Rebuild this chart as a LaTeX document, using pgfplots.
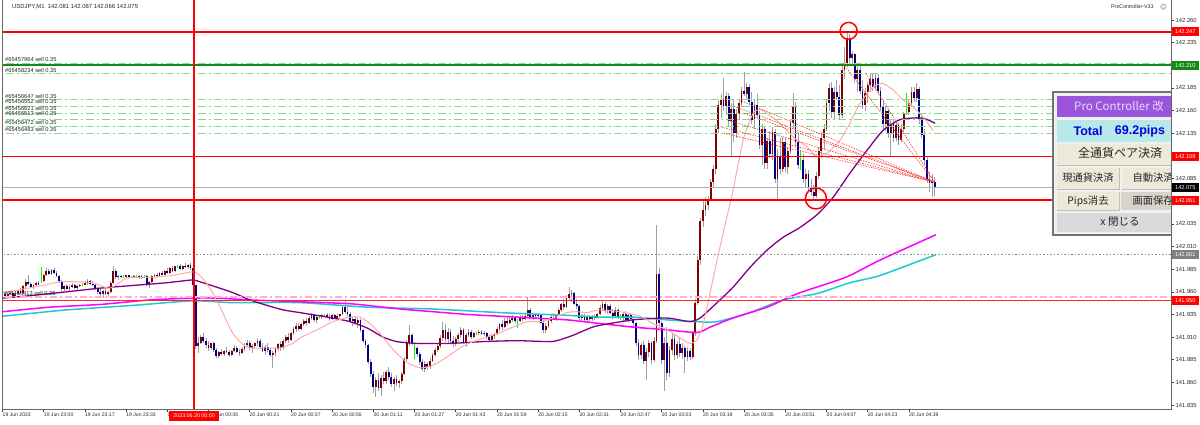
\documentclass[border=0pt]{standalone}
\usepackage{pgfplots}
\pgfplotsset{compat=1.18}
\usepackage{pgfplotstable}
\usepackage{fontspec}
\setmainfont{Liberation Sans}
\newfontfamily\jp{Noto Sans CJK JP}
\newfontfamily\dv{DejaVu Sans}
\definecolor{upc}{HTML}{800000}
\definecolor{dnc}{HTML}{000080}
\definecolor{wickc}{HTML}{A0A0A0}
\definecolor{dojic}{HTML}{00FF00}
\definecolor{pinkma}{HTML}{FFAAAA}
\definecolor{purplema}{HTML}{800080}
\definecolor{magma}{HTML}{FF00FF}
\definecolor{cyanma}{HTML}{20C8D0}
\definecolor{sellg}{HTML}{7FDF7F}
\definecolor{tpgreen}{HTML}{138A13}
\definecolor{bidc}{HTML}{A8B4C4}
\definecolor{pinkdd}{HTML}{FFADD6}
\definecolor{hdr}{HTML}{9B55DC}
\definecolor{hdrtxt}{HTML}{E8DAFA}
\definecolor{totbg}{HTML}{B8E8E8}
\definecolor{btn}{HTML}{ECE9D8}
\definecolor{btnd}{HTML}{D6D3CA}
\definecolor{closeb}{HTML}{D9D9D9}

\pgfplotstableread{
i o h l c
0 141.956 141.959 141.953 141.957
2 141.955 141.958 141.953 141.957
3 141.957 141.961 141.956 141.959
5 141.955 141.959 141.954 141.958
6 141.958 141.962 141.957 141.961
8 141.959 141.967 141.958 141.966
9 141.966 141.974 141.964 141.971
12 141.965 141.969 141.963 141.968
13 141.968 141.971 141.966 141.970
16 141.972 141.980 141.971 141.979
17 141.979 141.986 141.977 141.983
19 141.980 141.985 141.979 141.984
24 141.963 141.968 141.961 141.966
26 141.963 141.967 141.960 141.965
27 141.965 141.970 141.964 141.968
29 141.964 141.967 141.961 141.966
30 141.966 141.969 141.965 141.968
32 141.968 141.972 141.967 141.970
33 141.970 141.974 141.968 141.972
39 141.957 141.962 141.953 141.961
41 141.958 141.961 141.954 141.960
42 141.960 141.972 141.959 141.970
43 141.970 141.988 141.969 141.983
45 141.976 141.979 141.973 141.977
48 141.976 141.979 141.975 141.978
51 141.976 141.979 141.975 141.977
54 141.975 141.978 141.974 141.977
57 141.967 141.972 141.964 141.971
58 141.971 141.978 141.970 141.977
59 141.977 141.980 141.975 141.979
61 141.977 141.982 141.976 141.981
63 141.979 141.984 141.978 141.983
65 141.981 141.987 141.980 141.986
67 141.983 141.989 141.982 141.988
70 141.985 141.990 141.984 141.989
72 141.987 141.991 141.985 141.990
76 141.900 141.910 141.892 141.904
77 141.904 141.912 141.902 141.910
81 141.898 141.904 141.896 141.903
84 141.889 141.895 141.887 141.893
86 141.891 141.896 141.889 141.895
89 141.890 141.896 141.889 141.895
90 141.895 141.901 141.894 141.898
93 141.892 141.899 141.891 141.897
94 141.897 141.903 141.895 141.901
95 141.901 141.907 141.899 141.904
97 141.898 141.902 141.892 141.900
98 141.900 141.905 141.897 141.903
99 141.903 141.909 141.900 141.906
102 141.895 141.901 141.890 141.899
105 141.890 141.895 141.876 141.892
106 141.892 141.899 141.889 141.897
107 141.897 141.904 141.895 141.902
109 141.898 141.908 141.896 141.906
110 141.906 141.912 141.903 141.910
112 141.907 141.916 141.906 141.914
113 141.914 141.921 141.912 141.919
114 141.919 141.925 141.916 141.922
116 141.919 141.926 141.918 141.924
117 141.924 141.930 141.922 141.928
119 141.925 141.933 141.924 141.931
120 141.931 141.937 141.929 141.934
122 141.929 141.934 141.926 141.932
124 141.932 141.936 141.930 141.934
128 141.930 141.935 141.929 141.934
130 141.931 141.935 141.929 141.933
131 141.933 141.936 141.931 141.935
132 141.935 141.945 141.934 141.943
136 141.928 141.932 141.922 141.930
138 141.926 141.931 141.920 141.929
145 141.855 141.866 141.844 141.863
147 141.854 141.868 141.845 141.865
149 141.861 141.874 141.858 141.871
152 141.858 141.866 141.851 141.864
154 141.859 141.863 141.854 141.861
155 141.861 141.871 141.858 141.869
156 141.869 141.888 141.868 141.886
157 141.886 141.907 141.884 141.904
158 141.904 141.923 141.900 141.912
164 141.875 141.884 141.871 141.880
166 141.877 141.887 141.875 141.884
167 141.884 141.892 141.882 141.890
168 141.890 141.898 141.888 141.896
169 141.896 141.903 141.893 141.900
170 141.900 141.912 141.898 141.909
171 141.909 141.927 141.906 141.918
173 141.908 141.920 141.903 141.916
176 141.902 141.910 141.900 141.908
177 141.908 141.915 141.905 141.912
178 141.912 141.921 141.909 141.918
180 141.904 141.914 141.899 141.912
181 141.912 141.919 141.910 141.916
183 141.910 141.916 141.909 141.914
185 141.914 141.918 141.912 141.916
187 141.913 141.917 141.911 141.915
190 141.907 141.913 141.906 141.911
191 141.911 141.915 141.908 141.913
192 141.913 141.921 141.912 141.919
193 141.919 141.926 141.917 141.924
195 141.921 141.931 141.920 141.928
197 141.925 141.931 141.924 141.929
198 141.929 141.934 141.927 141.931
201 141.928 141.934 141.927 141.932
203 141.930 141.935 141.929 141.933
204 141.933 141.954 141.931 141.940
206 141.932 141.936 141.929 141.934
208 141.933 141.936 141.930 141.935
211 141.918 141.925 141.914 141.922
212 141.922 141.930 141.920 141.928
213 141.928 141.934 141.926 141.932
215 141.930 141.936 141.928 141.935
216 141.935 141.942 141.933 141.940
217 141.940 141.948 141.938 141.946
219 141.943 141.956 141.942 141.953
220 141.953 141.965 141.950 141.957
221 141.957 141.962 141.949 141.959
225 141.931 141.935 141.927 141.933
227 141.929 141.934 141.927 141.932
229 141.930 141.934 141.928 141.933
231 141.931 141.937 141.930 141.935
232 141.935 141.945 141.934 141.942
233 141.942 141.951 141.939 141.947
235 141.939 141.946 141.936 141.944
238 141.933 141.943 141.931 141.940
241 141.932 141.938 141.928 141.936
243 141.929 141.937 141.926 141.934
248 141.890 141.904 141.886 141.901
250 141.884 141.898 141.863 141.894
251 141.894 141.907 141.888 141.904
253 141.885 141.910 141.882 141.906
254 141.906 142.034 141.904 141.980
257 141.885 141.910 141.851 141.904
259 141.870 141.900 141.866 141.896
260 141.896 141.914 141.890 141.908
262 141.890 141.906 141.886 141.902
264 141.892 141.903 141.886 141.898
266 141.888 141.899 141.884 141.895
268 141.888 141.917 141.886 141.914
269 141.914 141.952 141.911 141.948
270 141.948 142.000 141.945 141.995
271 141.995 142.042 141.990 142.038
272 142.038 142.062 142.032 142.050
273 142.050 142.065 142.044 142.056
274 142.056 142.066 142.050 142.062
275 142.062 142.085 142.060 142.081
276 142.081 142.100 142.076 142.096
277 142.096 142.145 142.090 142.140
278 142.140 142.172 142.135 142.166
279 142.166 142.178 142.152 142.172
281 142.165 142.180 142.155 142.176
283 142.148 142.168 142.110 142.162
285 142.135 142.162 142.130 142.156
286 142.156 142.172 142.150 142.168
287 142.168 142.186 142.164 142.182
289 142.178 142.190 142.172 142.186
292 142.150 142.172 142.140 142.166
295 142.122 142.145 142.100 142.140
297 142.102 142.130 142.095 142.126
299 142.112 142.142 142.105 142.136
301 142.085 142.118 142.062 142.110
303 142.095 142.131 142.092 142.125
305 142.098 142.120 142.090 142.115
306 142.115 142.150 142.112 142.146
307 142.146 142.179 142.140 142.165
312 142.085 142.096 142.075 142.090
316 142.066 142.092 142.064 142.088
317 142.088 142.120 142.085 142.115
318 142.115 142.136 142.108 142.130
319 142.130 142.145 142.118 142.140
320 142.140 142.172 142.138 142.168
321 142.168 142.190 142.160 142.185
323 142.158 142.186 142.150 142.180
326 142.155 142.210 142.152 142.205
327 142.205 142.230 142.195 142.212
328 142.212 142.247 142.208 142.240
330 142.218 142.226 142.210 142.222
332 142.195 142.210 142.180 142.205
335 142.166 142.185 142.160 142.180
336 142.180 142.192 142.168 142.188
337 142.188 142.200 142.180 142.195
339 142.186 142.200 142.183 142.196
343 142.145 142.165 142.138 142.160
345 142.135 142.150 142.109 142.145
347 142.130 142.148 142.126 142.144
349 142.128 142.145 142.125 142.140
350 142.140 142.158 142.136 142.156
352 142.158 142.172 142.155 142.168
353 142.168 142.186 142.164 142.180
355 142.174 142.190 142.170 142.184
361 142.080 142.090 142.065 142.081
}\up

\pgfplotstableread{
i o h l c
1 141.957 141.960 141.955 141.955
4 141.959 141.960 141.954 141.955
7 141.961 141.964 141.958 141.959
10 141.971 141.978 141.968 141.969
11 141.969 141.971 141.964 141.965
14 141.970 141.972 141.967 141.968
18 141.983 141.985 141.978 141.980
20 141.984 141.986 141.980 141.981
21 141.981 141.983 141.976 141.977
22 141.977 141.979 141.970 141.972
23 141.972 141.973 141.960 141.963
25 141.966 141.969 141.962 141.963
28 141.968 141.969 141.963 141.964
34 141.972 141.973 141.967 141.969
35 141.969 141.972 141.966 141.967
36 141.967 141.969 141.962 141.963
37 141.963 141.965 141.958 141.960
38 141.960 141.963 141.955 141.957
40 141.961 141.964 141.956 141.958
44 141.983 141.985 141.974 141.976
46 141.977 141.979 141.975 141.976
49 141.978 141.979 141.975 141.976
53 141.977 141.978 141.974 141.975
56 141.977 141.978 141.966 141.967
60 141.979 141.981 141.976 141.977
62 141.981 141.983 141.978 141.979
64 141.983 141.986 141.980 141.981
66 141.986 141.988 141.982 141.983
69 141.988 141.991 141.984 141.985
71 141.989 141.992 141.986 141.987
73 141.990 141.992 141.984 141.986
74 141.986 141.990 141.966 141.967
75 141.967 141.968 141.897 141.900
78 141.910 141.914 141.904 141.906
79 141.906 141.909 141.898 141.901
80 141.901 141.906 141.895 141.898
82 141.903 141.905 141.894 141.896
83 141.896 141.898 141.887 141.889
85 141.893 141.897 141.890 141.891
87 141.895 141.899 141.892 141.893
88 141.893 141.896 141.888 141.890
91 141.898 141.900 141.892 141.894
92 141.894 141.897 141.889 141.892
96 141.904 141.906 141.896 141.898
100 141.906 141.908 141.897 141.899
101 141.899 141.903 141.893 141.895
103 141.899 141.904 141.894 141.896
104 141.896 141.898 141.888 141.890
108 141.902 141.906 141.895 141.898
111 141.910 141.914 141.904 141.907
115 141.922 141.925 141.917 141.919
118 141.928 141.931 141.923 141.925
121 141.934 141.936 141.927 141.929
126 141.934 141.937 141.931 141.932
127 141.932 141.935 141.928 141.930
129 141.934 141.936 141.930 141.931
133 141.943 141.951 141.936 141.938
134 141.938 141.944 141.933 141.936
135 141.936 141.938 141.926 141.928
137 141.930 141.933 141.924 141.926
139 141.929 141.930 141.916 141.918
140 141.918 141.919 141.904 141.906
141 141.906 141.908 141.898 141.901
142 141.901 141.902 141.880 141.883
143 141.883 141.886 141.866 141.869
144 141.869 141.872 141.848 141.855
146 141.863 141.870 141.850 141.854
148 141.865 141.872 141.858 141.861
150 141.871 141.877 141.863 141.866
151 141.866 141.870 141.855 141.858
153 141.864 141.868 141.856 141.859
159 141.912 141.914 141.901 141.903
161 141.898 141.900 141.888 141.891
162 141.891 141.893 141.879 141.882
163 141.882 141.886 141.872 141.875
165 141.880 141.883 141.874 141.877
172 141.918 141.924 141.905 141.908
174 141.916 141.919 141.904 141.906
175 141.906 141.911 141.899 141.902
179 141.918 141.920 141.902 141.904
182 141.916 141.918 141.908 141.910
186 141.916 141.918 141.912 141.913
188 141.915 141.916 141.908 141.910
189 141.910 141.912 141.905 141.907
194 141.924 141.929 141.918 141.921
196 141.928 141.932 141.923 141.925
199 141.931 141.933 141.926 141.928
202 141.932 141.934 141.928 141.930
205 141.940 141.942 141.930 141.932
207 141.934 141.937 141.931 141.933
209 141.935 141.936 141.924 141.926
210 141.926 141.929 141.915 141.918
214 141.932 141.937 141.929 141.930
218 141.946 141.952 141.940 141.943
222 141.959 141.960 141.945 141.947
223 141.947 141.952 141.941 141.944
224 141.944 141.945 141.929 141.931
226 141.933 141.935 141.928 141.929
228 141.932 141.934 141.928 141.930
230 141.933 141.935 141.929 141.931
234 141.947 141.949 141.937 141.939
236 141.944 141.947 141.935 141.937
237 141.937 141.941 141.930 141.933
239 141.940 141.942 141.930 141.932
242 141.936 141.939 141.927 141.929
244 141.934 141.937 141.928 141.930
245 141.930 141.933 141.922 141.925
246 141.925 141.927 141.900 141.904
247 141.904 141.908 141.885 141.890
249 141.901 141.906 141.880 141.884
252 141.904 141.906 141.880 141.885
255 141.980 141.986 141.920 141.925
256 141.925 141.928 141.880 141.885
258 141.904 141.921 141.863 141.870
261 141.908 141.912 141.885 141.890
263 141.902 141.910 141.888 141.892
265 141.898 141.900 141.870 141.888
267 141.895 141.898 141.885 141.888
280 142.172 142.196 142.160 142.165
282 142.176 142.179 142.142 142.148
284 142.162 142.172 142.125 142.135
288 142.182 142.203 142.176 142.178
290 142.186 142.189 142.166 142.170
291 142.170 142.180 142.145 142.150
293 142.166 142.178 142.152 142.155
294 142.155 142.160 142.118 142.122
296 142.140 142.142 142.096 142.102
298 142.126 142.138 142.108 142.112
300 142.136 142.140 142.080 142.085
302 142.110 142.130 142.090 142.095
304 142.125 142.130 142.092 142.098
308 142.165 142.170 142.120 142.125
309 142.125 142.135 142.096 142.100
311 142.105 142.112 142.080 142.085
313 142.090 142.094 142.072 142.076
314 142.076 142.085 142.066 142.070
315 142.070 142.078 142.061 142.066
322 142.185 142.192 142.152 142.158
324 142.180 142.194 142.172 142.175
325 142.175 142.188 142.150 142.155
329 142.240 142.245 142.212 142.218
331 142.222 142.224 142.190 142.195
333 142.205 142.212 142.178 142.182
334 142.182 142.194 142.162 142.166
338 142.195 142.201 142.182 142.186
340 142.196 142.200 142.178 142.182
341 142.182 142.186 142.160 142.164
342 142.164 142.172 142.140 142.145
344 142.160 142.162 142.130 142.135
346 142.145 142.150 142.125 142.130
348 142.144 142.146 142.122 142.128
354 142.180 142.186 142.170 142.174
356 142.184 142.186 142.145 142.150
357 142.150 142.156 142.130 142.133
358 142.133 142.140 142.100 142.105
359 142.105 142.110 142.080 142.085
360 142.085 142.092 142.070 142.080
362 142.081 142.087 142.066 142.075
}\dn

\pgfplotstableread{
i o h l c
15 141.972 141.987 141.970 141.972
31 141.968 141.970 141.966 141.968
47 141.976 141.978 141.975 141.976
50 141.976 141.977 141.975 141.976
52 141.977 141.978 141.976 141.977
55 141.977 141.979 141.976 141.977
68 141.988 141.990 141.986 141.988
123 141.932 141.934 141.930 141.932
125 141.934 141.935 141.932 141.934
160 141.898 141.904 141.886 141.898
184 141.914 141.916 141.912 141.914
200 141.928 141.930 141.920 141.928
240 141.932 141.936 141.929 141.932
310 142.105 142.116 142.094 142.105
351 142.158 142.179 142.155 142.158
}\dj

\begin{document}
\begin{tikzpicture}[x=1pt,y=1pt]
\useasboundingbox (0pt,0pt) rectangle (1200pt,424pt);
\begin{axis}[at={(2pt,15pt)}, anchor=south west, scale only axis,
  width=1169pt, height=409pt,
  xmin=-0.2, xmax=453.8, ymin=141.8306, ymax=142.2821,
  axis line style={draw=none},
  xtick={0,16,...,352},
  xticklabels={19 Jun 2023,19 Jun 23:00,19 Jun 23:17,19 Jun 23:33,19 Jun 23:49,20 Jun 00:05,20 Jun 00:21,20 Jun 00:37,20 Jun 00:55,20 Jun 01:11,20 Jun 01:27,20 Jun 01:43,20 Jun 01:59,20 Jun 02:15,20 Jun 02:31,20 Jun 02:47,20 Jun 03:03,20 Jun 03:19,20 Jun 03:35,20 Jun 03:51,20 Jun 04:07,20 Jun 04:23,20 Jun 04:39},
  ytick={141.835,141.860,141.885,141.910,141.935,141.960,141.985,142.010,142.035,142.060,142.085,142.110,142.135,142.160,142.185,142.210,142.235,142.260},
  xtick pos=bottom, ytick pos=right, yticklabel pos=right,
  tick align=outside, major tick length=3pt,
  tick style={black!75, line width=0.5pt},
  scaled y ticks=false,
  /pgf/number format/fixed, /pgf/number format/fixed zerofill,
  /pgf/number format/precision=3, /pgf/number format/assume math mode=true,
  yticklabel style={anchor=west, xshift=0.5pt, inner sep=1pt, font=\fontsize{5.8}{6}\selectfont, text=black!85},
  xticklabel style={anchor=north west, xshift=-1pt, yshift=0.5pt, inner sep=1pt, font=\fontsize{5.1}{6}\selectfont, text=black!85},
]
% candles
\addplot[wickc, line width=0.8pt, quiver={u=0, v=\thisrow{h}-\thisrow{l}}] table[x=i, y=l] {\up};
\addplot[wickc, line width=0.8pt, quiver={u=0, v=\thisrow{h}-\thisrow{l}}] table[x=i, y=l] {\dn};
\addplot[dojic, line width=0.9pt, quiver={u=0, v=\thisrow{h}-\thisrow{l}}] table[x=i, y=l] {\dj};
\addplot[upc, line width=1.8pt, quiver={u=0, v=\thisrow{c}-\thisrow{o}}] table[x=i, y=o] {\up};
\addplot[dnc, line width=1.8pt, quiver={u=0, v=\thisrow{c}-\thisrow{o}}] table[x=i, y=o] {\dn};
% moving averages
\addplot[cyanma, line width=1.5pt, smooth, tension=0.4] coordinates {(0,141.933) (25.0,141.940) (50.7,141.945) (74.0,141.950) (89.5,141.948) (115.5,141.948) (141.6,141.943) (167.2,141.941) (193.2,141.937) (219.2,141.934) (232.0,141.932) (244.9,141.932) (258.1,141.929) (269.7,141.927) (277.5,141.927) (290.3,141.937) (303.1,141.951) (316.3,141.958) (329.1,141.970) (340.8,141.978) (362.5,142.001)};
\addplot[magma, line width=1.5pt, smooth, tension=0.4] coordinates {(0,141.938) (18.4,141.943) (37.9,141.946) (57.3,141.951) (74.0,141.953) (83.3,141.953) (96.1,141.951) (115.5,141.949) (133.8,141.947) (141.6,141.945) (154.4,141.941) (167.2,141.938) (180.4,141.935) (193.2,141.933) (206.0,141.931) (219.2,141.929) (232.0,141.925) (244.9,141.921) (258.1,141.918) (269.7,141.915) (274.8,141.921) (283.7,141.931) (296.9,141.943) (304.7,141.953) (309.7,141.959) (322.5,141.971) (329.1,141.978) (340.8,141.995) (362.5,142.023)};
\addplot[purplema, line width=1.3pt, smooth, tension=0.4] coordinates {(0,141.953) (11.8,141.956) (25.0,141.960) (37.9,141.964) (50.7,141.967) (63.9,141.970) (73.6,141.973) (76.7,141.971) (83.3,141.965) (89.5,141.959) (96.1,141.951) (102.7,141.945) (109.0,141.940) (115.5,141.937) (122.1,141.934) (128.3,141.931) (135.0,141.927) (141.6,141.920) (147.8,141.910) (153.2,141.905) (161.0,141.903) (173.8,141.903) (186.6,141.905) (199.8,141.906) (212.6,141.905) (216.5,141.907) (221.6,141.912) (228.2,141.920) (232.0,141.923) (244.9,141.929) (258.1,141.931) (267.0,141.927) (270.9,141.931) (277.5,141.948) (283.7,141.965) (290.3,141.987) (296.9,142.006) (303.1,142.020) (309.7,142.031) (316.3,142.045) (322.5,142.064) (329.1,142.091) (335.7,142.116) (341.9,142.138) (348.5,142.150) (355.2,142.152) (358.3,142.151) (362.2,142.146)};
\addplot[pinkma, line width=1pt, smooth, tension=0.4] coordinates {(0,141.959) (15.7,141.967) (22.3,141.971) (28.9,141.971) (35.1,141.970) (41.7,141.964) (48.3,141.975) (57.3,141.976) (66.2,141.978) (73.6,141.982) (76.7,141.978) (80.6,141.964) (84.5,141.943) (89.5,141.914) (94.9,141.899) (102.7,141.898) (107.8,141.898) (112.8,141.903) (115.5,141.909) (122.1,141.918) (128.3,141.927) (135.0,141.932) (138.8,141.932) (142.7,141.925) (146.6,141.914) (151.7,141.896) (157.1,141.882) (162.1,141.876) (167.2,141.879) (172.6,141.888) (177.7,141.898) (182.7,141.905) (188.2,141.910) (193.2,141.915) (198.2,141.921) (203.7,141.927) (208.7,141.927) (213.8,141.931) (219.2,141.937) (223.1,141.938) (227.0,141.937) (232.0,141.940) (239.8,141.938) (247.6,141.933) (252.6,141.925) (258.1,141.918) (264.3,141.907) (267.0,141.903) (269.7,141.907) (272.0,141.923) (274.8,141.959) (278.6,142.009) (283.7,142.072) (287.6,142.127) (291.5,142.157) (294.2,142.161) (296.9,142.157) (301.9,142.146) (307.0,142.131) (312.4,142.120) (316.3,142.109) (320.2,142.113) (325.2,142.127) (329.1,142.146) (333.0,142.168) (338.1,142.186) (341.9,142.190) (345.8,142.183) (349.7,142.172) (353.6,142.164) (357.5,142.153) (361.4,142.138)};
% horizontal objects
\addplot[sellg, line width=1pt, dash pattern=on 8pt off 3pt on 2pt off 3pt] coordinates {(-5,142.212) (460,142.212)};
\addplot[sellg, line width=1pt, dash pattern=on 8pt off 3pt on 2pt off 3pt] coordinates {(-5,142.201) (460,142.201)};
\addplot[sellg, line width=1pt, dash pattern=on 8pt off 3pt on 2pt off 3pt] coordinates {(-5,142.172) (460,142.172)};
\addplot[sellg, line width=1pt, dash pattern=on 8pt off 3pt on 2pt off 3pt] coordinates {(-5,142.165) (460,142.165)};
\addplot[sellg, line width=1pt, dash pattern=on 8pt off 3pt on 2pt off 3pt] coordinates {(-5,142.157) (460,142.157)};
\addplot[sellg, line width=1pt, dash pattern=on 8pt off 3pt on 2pt off 3pt] coordinates {(-5,142.150) (460,142.150)};
\addplot[sellg, line width=1pt, dash pattern=on 8pt off 3pt on 2pt off 3pt] coordinates {(-5,142.142) (460,142.142)};
\addplot[sellg, line width=1pt, dash pattern=on 8pt off 3pt on 2pt off 3pt] coordinates {(-5,142.135) (460,142.135)};
\addplot[tpgreen, line width=1.8pt] coordinates {(-5,142.210) (460,142.210)};
\addplot[red, line width=1.8pt] coordinates {(-5,142.247) (460,142.247)};
\addplot[red, line width=0.8pt] coordinates {(-5,142.109) (460,142.109)};
\addplot[bidc, line width=0.9pt] coordinates {(-5,142.075) (460,142.075)};
\addplot[red, line width=1.8pt] coordinates {(-5,142.061) (460,142.061)};
\addplot[black!45, line width=0.8pt, dash pattern=on 1.5pt off 2pt] coordinates {(-5,142.001) (460,142.001)};
\addplot[pinkdd, line width=2pt, dash pattern=on 7pt off 3pt on 2pt off 3pt] coordinates {(-5,141.954) (460,141.954)};
\addplot[red!85, line width=0.8pt] coordinates {(-5,141.950) (460,141.950)};
\addplot[red, line width=1.2pt] coordinates {(74.4,141.7) (74.4,142.4)};
% order connection lines
\addplot[red!80, line width=0.6pt, dash pattern=on 1.5pt off 1.2pt] coordinates {(326.4,142.212) (362,142.081)};
\addplot[red!80, line width=0.6pt, dash pattern=on 1.5pt off 1.2pt] coordinates {(335.3,142.201) (362,142.081)};
\addplot[red!80, line width=0.6pt, dash pattern=on 1.5pt off 1.2pt] coordinates {(286,142.172) (362,142.081)};
\addplot[red!80, line width=0.6pt, dash pattern=on 1.5pt off 1.2pt] coordinates {(284,142.165) (362,142.081)};
\addplot[red!80, line width=0.6pt, dash pattern=on 1.5pt off 1.2pt] coordinates {(288,142.157) (362,142.081)};
\addplot[red!80, line width=0.6pt, dash pattern=on 1.5pt off 1.2pt] coordinates {(281,142.150) (362,142.081)};
\addplot[red!80, line width=0.6pt, dash pattern=on 1.5pt off 1.2pt] coordinates {(279,142.142) (362,142.081)};
\addplot[red!80, line width=0.6pt, dash pattern=on 1.5pt off 1.2pt] coordinates {(280,142.135) (362,142.081)};
% circles
\addplot[only marks, mark=o, mark size=8.5pt, mark options={red, line width=1.5pt}] coordinates {(328.6,142.248)};
\addplot[only marks, mark=o, mark size=10.5pt, mark options={red, line width=1.5pt}] coordinates {(315.9,142.063)};
% label anchors
\coordinate (R247) at (axis cs:453.8,142.247);
\coordinate (R210) at (axis cs:453.8,142.210);
\coordinate (R109) at (axis cs:453.8,142.109);
\coordinate (R075) at (axis cs:453.8,142.075);
\coordinate (R061) at (axis cs:453.8,142.061);
\coordinate (R001) at (axis cs:453.8,142.001);
\coordinate (R950) at (axis cs:453.8,141.950);
\coordinate (C0) at (axis cs:74.4,141.8306);
\end{axis}
% sell labels
\begin{scope}[every node/.style={anchor=west, inner sep=0pt, font=\fontsize{5.7}{6}\selectfont, text=black!85}]
\node at (5pt,365pt) {\#65457964 sell 0.35};
\node at (5pt,354pt) {\#65458234 sell 0.35};
\node at (5pt,328pt) {\#65456647 sell 0.35};
\node at (5pt,322.5pt) {\#65456552 sell 0.35};
\node at (5pt,316pt) {\#65456621 sell 0.35};
\node at (5pt,310.5pt) {\#65456513 sell 0.35};
\node at (5pt,302pt) {\#65456472 sell 0.35};
\node at (5pt,295pt) {\#65456483 sell 0.35};
\node at (4pt,130.5pt) {\#65456413 sell 0.35};
\end{scope}
% top texts
\node[anchor=west, inner sep=0pt, font=\fontsize{5.9}{6}\selectfont, text=black!85] at (12pt,417pt) {USDJPY,M1\ \ 142.081 142.087 142.066 142.075};
\node[anchor=west, inner sep=0pt, font=\fontsize{5.3}{6}\selectfont, text=black!85] at (1111pt,417pt) {ProController-V33};
\node[anchor=west, inner sep=0pt, font=\dv\fontsize{6.5}{7}\selectfont, text=black!60] at (1160pt,417pt) {☺};
% panel
\begin{scope}
\clip (1040pt,180pt) rectangle (1171pt,340pt);
\fill[black!6] (1053pt,189pt) rectangle (1180pt,332pt);
\draw[black!55, line width=1.5pt] (1053pt,189pt) rectangle (1185pt,332pt);
\fill[hdr] (1057pt,307pt) rectangle (1180pt,328pt);
\node[text=hdrtxt, font=\jp\fontsize{11.5}{12}\selectfont] at (1119pt,317.5pt) {Pro Controller 改};
\fill[totbg] (1057pt,282pt) rectangle (1180pt,304pt);
\node[text=blue!90!black, font=\bfseries\fontsize{12.5}{13}\selectfont] at (1088pt,293pt) {Total};
\node[text=blue!90!black, font=\bfseries\fontsize{12.5}{13}\selectfont] at (1140pt,293pt) {69.2pips};
\fill[btn] (1057pt,259pt) rectangle (1180pt,280pt);
\draw[black!25, line width=0.5pt] (1057pt,259pt) -- (1180pt,259pt);
\node[text=black!85, font=\jp\fontsize{12}{13}\selectfont] at (1120pt,271pt) {全通貨ペア決済};
\fill[btn] (1057pt,235pt) rectangle (1119pt,256pt);
\draw[black!25, line width=0.5pt] (1057pt,235pt) -- (1119pt,235pt) -- (1119pt,256pt);
\fill[btn] (1122pt,235pt) rectangle (1180pt,256pt);
\draw[black!25, line width=0.5pt] (1122pt,235pt) -- (1180pt,235pt);
\node[text=black!85, font=\jp\fontsize{10.3}{11}\selectfont] at (1088pt,246pt) {現通貨決済};
\node[anchor=west, text=black!85, font=\jp\fontsize{10.3}{11}\selectfont] at (1129pt,246pt) {自動決済};
\fill[btn] (1057pt,214pt) rectangle (1119pt,232pt);
\draw[black!25, line width=0.5pt] (1057pt,214pt) -- (1119pt,214pt) -- (1119pt,232pt);
\fill[btnd] (1121pt,214pt) rectangle (1180pt,232pt);
\node[text=black!85, font=\jp\fontsize{10.3}{11}\selectfont] at (1088pt,223pt) {Pips消去};
\node[anchor=west, text=black!85, font=\jp\fontsize{10.3}{11}\selectfont] at (1129pt,223pt) {画面保存};
\fill[closeb] (1057pt,192pt) rectangle (1180pt,211pt);
\node[text=black!85, font=\jp\fontsize{10.5}{11}\selectfont] at (1120pt,202pt) {x 閉じる};
\end{scope}
% frame
\draw[black!60, line width=0.8pt] (current axis.north west) -- (current axis.south west) -- (current axis.south east) -- (current axis.north east);
% price labels
\begin{scope}[every node/.style={anchor=west, xshift=0.8pt, inner sep=0pt, minimum width=26.5pt, minimum height=9pt, font=\fontsize{5.6}{6}\selectfont, text=white}]
\node[fill=red] at (R247) {142.247};
\node[fill=tpgreen] at (R210) {142.210};
\node[fill=red] at (R109) {142.109};
\node[fill=black] at (R075) {142.075};
\node[fill=red] at (R061) {142.061};
\node[fill=black!50] at (R001) {142.001};
\node[fill=red] at (R950) {141.950};
\end{scope}
\node[fill=red, text=white, anchor=north, yshift=-1.5pt, inner sep=0pt, minimum width=50pt, minimum height=10pt, font=\fontsize{5.3}{6}\selectfont] at (C0) {2023.06.20 00:00};
\end{tikzpicture}
\end{document}
